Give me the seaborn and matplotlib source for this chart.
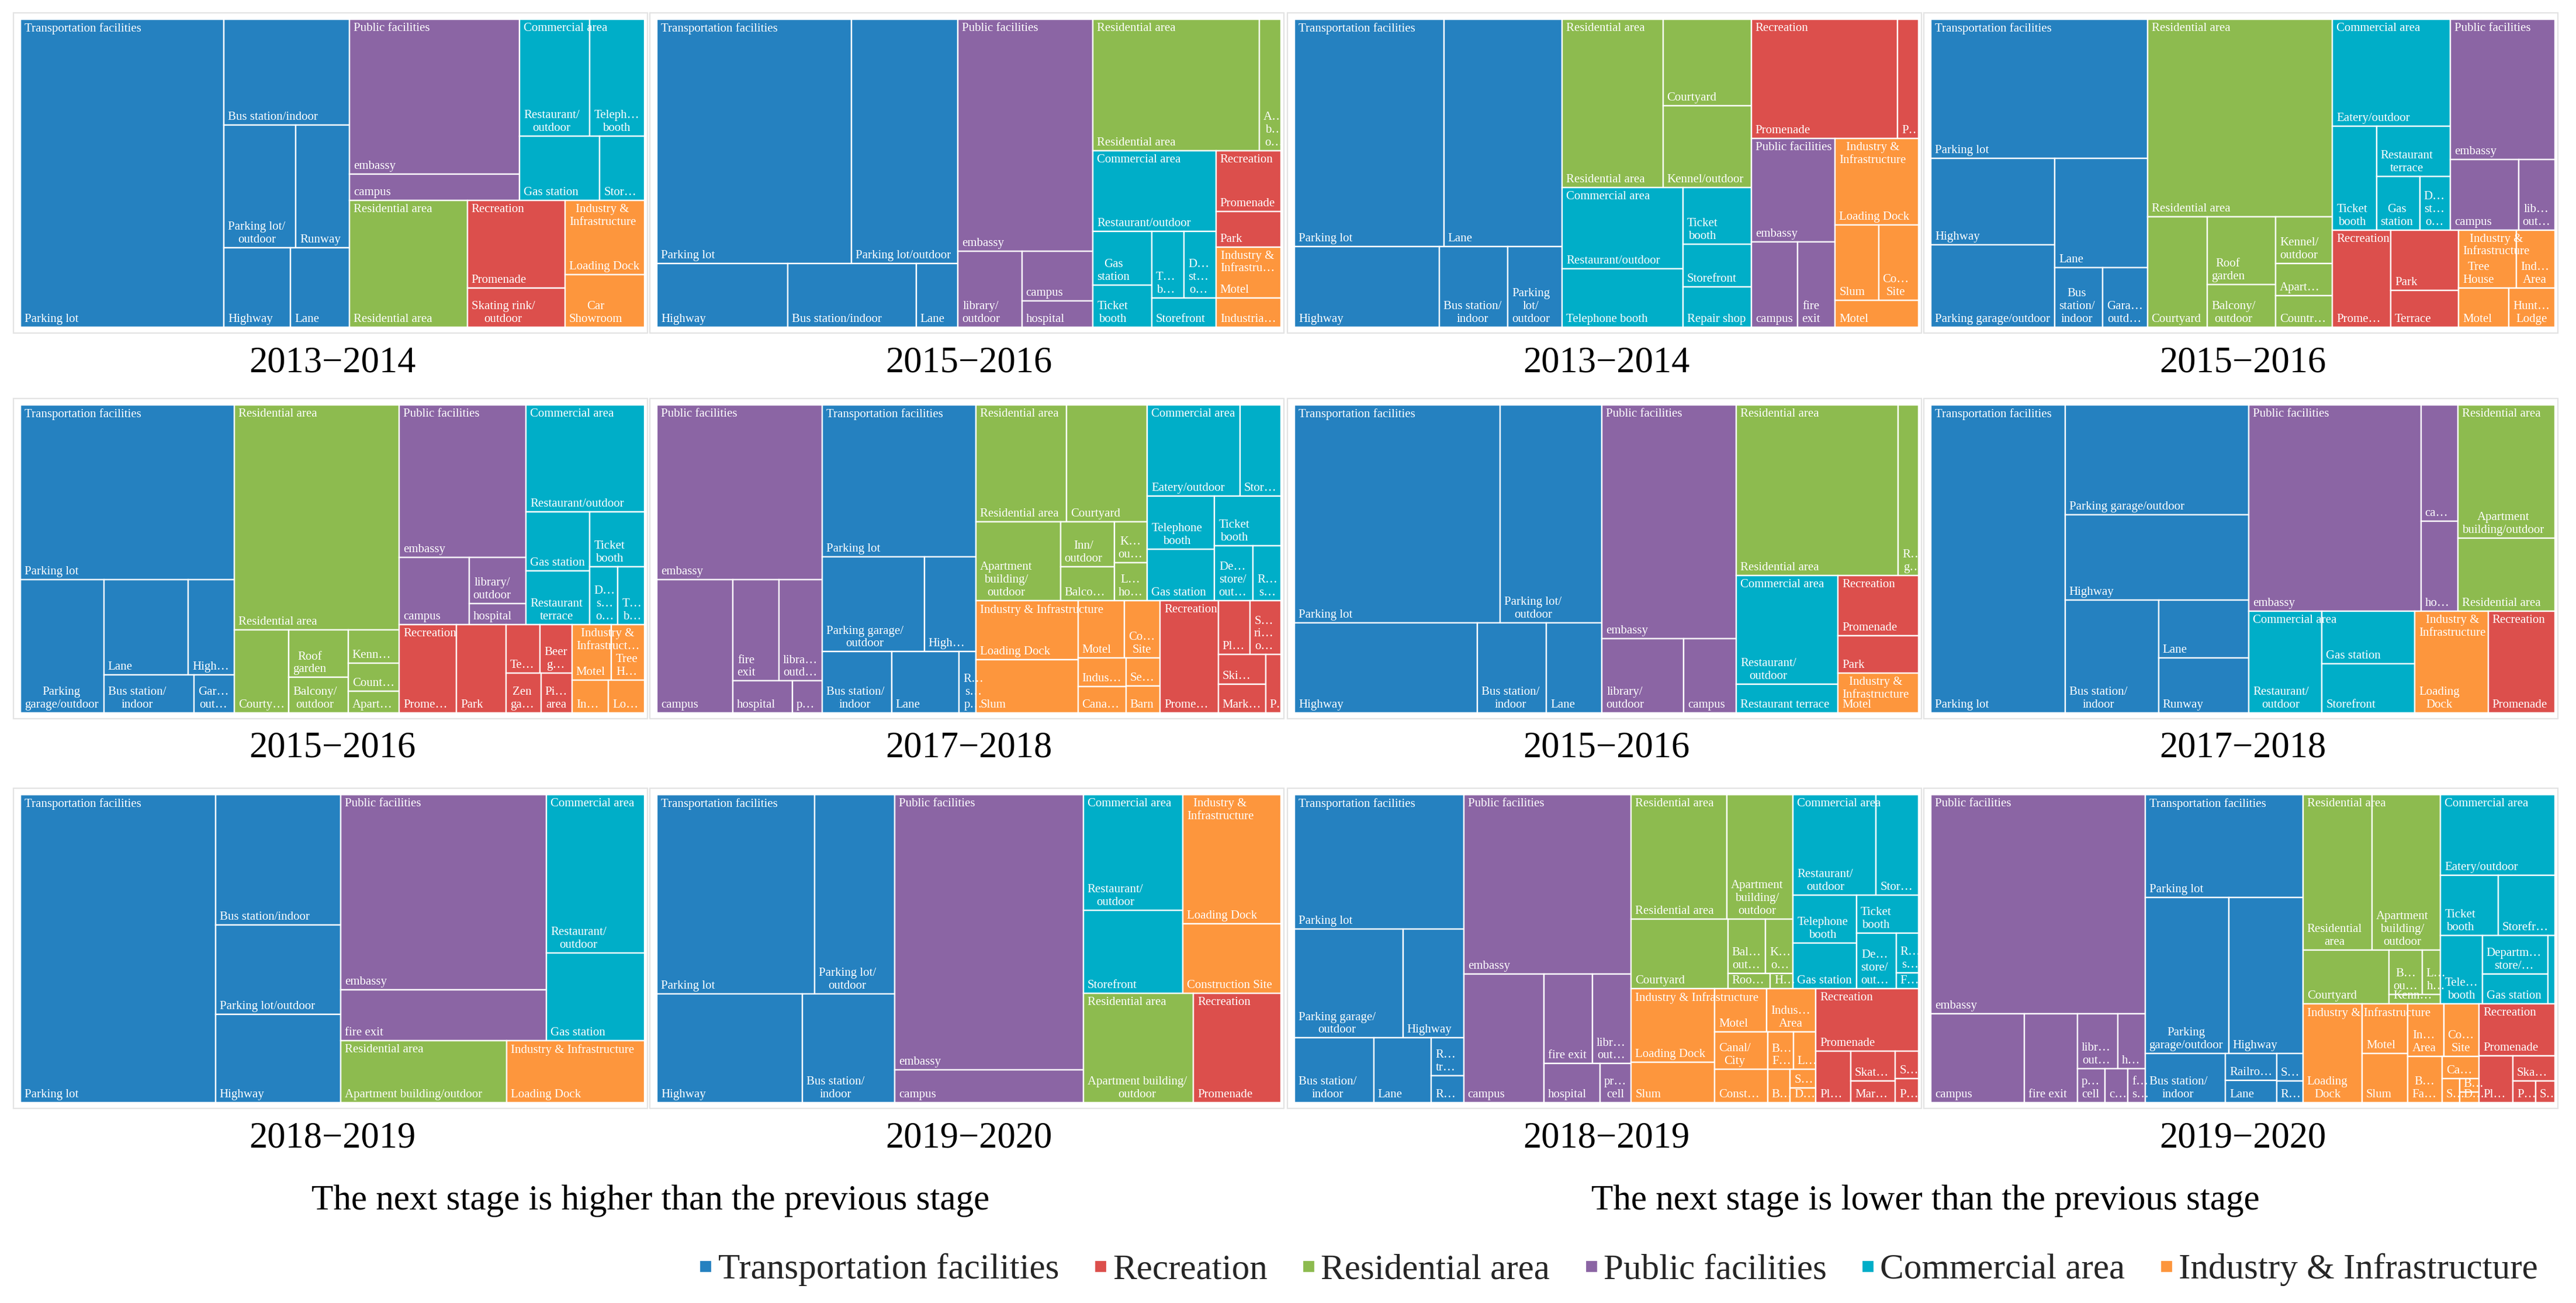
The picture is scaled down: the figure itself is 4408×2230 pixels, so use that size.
import re
import matplotlib
matplotlib.use("Agg")
import matplotlib.pyplot as plt
from matplotlib.patches import Rectangle
from matplotlib.lines import Line2D
from matplotlib.font_manager import FontProperties
import seaborn as sns

# group codes: T transport, P public, C commercial, R residential, E recreation, I industry
CAT_CODES = ["T", "E", "R", "P", "C", "I"]
CAT_NAMES = ["Transportation facilities", "Recreation", "Residential area",
             "Public facilities", "Commercial area", "Industry & Infrastructure"]
CAT_HEX = ["#2581c0", "#dc4f4c", "#8dbb4f", "#8b65a4", "#00aec8", "#fd963d"]

TITLES = ["2013\u22122014", "2015\u22122016", "2013\u22122014", "2015\u22122016",
          "2015\u22122016", "2017\u22122018", "2015\u22122016", "2017\u22122018",
          "2018\u22122019", "2019\u22122020", "2018\u22122019", "2019\u22122020"]
CAPTIONS = ["The next stage is higher than the previous stage",
            "The next stage is lower than the previous stage"]

# ---- leaf areas ----
P1_GROUP = list("TTTTTTPPCCCCREEII")
P1_LEAF = ["Parking lot", "Bus station/indoor", "Parking lot/outdoor", "Runway", "Highway", "Lane",
           "embassy", "campus",
           "Restaurant/outdoor", "Telephone booth", "Gas station", "Storefront",
           "Residential area", "Promenade", "Skating rink/outdoor", "Loading Dock", "Car Showroom"]
P1_VALUE = [735, 156, 103, 77, 62, 55, 309, 53, 96, 75, 61, 34, 175, 100, 45, 69, 49]

P2_GROUP = list("TTTTTPPPPRRCCCCCCEEII")
P2_LEAF = ["Parking lot", "Parking lot/outdoor", "Highway", "Bus station/indoor", "Lane",
           "embassy", "library/outdoor", "campus", "hospital",
           "Residential area", "Apartment building/outdoor",
           "Restaurant/outdoor", "Gas station", "Ticket booth", "Telephone booth",
           "Department store/outdoor", "Storefront",
           "Promenade", "Park", "Motel", "Industrial Area"]
P2_VALUE = [555, 303, 98, 96, 31, 367, 57, 41, 22, 256, 33, 116, 37, 29, 25, 25, 22, 46, 27, 39, 22]

P3_GROUP = list("TTTTTRRRCCCCCEEPPPIIII")
P3_LEAF = ["Parking lot", "Lane", "Highway", "Bus station/indoor", "Parking lot/outdoor",
           "Residential area", "Courtyard", "Kennel/outdoor",
           "Restaurant/outdoor", "Telephone booth", "Ticket booth", "Storefront", "Repair shop",
           "Promenade", "Park", "embassy", "campus", "fire exit",
           "Loading Dock", "Slum", "Construction Site", "Motel"]
P3_VALUE = [395, 313, 136, 64, 51, 197, 89, 84, 114, 82, 45, 34, 32, 203, 29, 101, 46, 37, 84, 38, 35, 26]

P4_GROUP = list("TTTTTTRRRRRRRCCCCCPPPEEEIIII")
P4_LEAF = ["Parking lot", "Highway", "Parking garage/outdoor", "Lane", "Bus station/indoor", "Garage/outdoor",
           "Residential area", "Courtyard", "Roof garden", "Balcony/outdoor", "Kennel/outdoor",
           "Apartment building/outdoor", "Country house",
           "Eatery/outdoor", "Ticket booth", "Restaurant terrace", "Gas station", "Department store/outdoor",
           "embassy", "campus", "library/outdoor", "Promenade", "Park", "Terrace",
           "Tree House", "Industrial Area", "Motel", "Hunting Lodge"]
P4_VALUE = [351, 125, 119, 118, 33, 31, 426, 77, 54, 34, 31, 21.3, 21, 147, 53, 43, 27, 19,
            171, 56, 30, 66, 48, 29, 39, 26, 23, 21]

P5_GROUP = list("TTTTTTRRRRRRRPPPPCCCCCCEEEEEEIIII")
P5_LEAF = ["Parking lot", "Parking garage/outdoor", "Lane", "Highway", "Bus station/indoor", "Garage/outdoor",
           "Residential area", "Courtyard", "Roof garden", "Balcony/outdoor", "Kennel/outdoor",
           "Country house", "Apartment building/outdoor",
           "embassy", "campus", "library/outdoor", "hospital",
           "Restaurant/outdoor", "Gas station", "Restaurant terrace", "Ticket booth",
           "Department store/outdoor", "Telephone booth",
           "Promenade", "Park", "Terrace", "Beer garden", "Zen garden", "Picnic area",
           "Motel", "Tree House", "Industrial Area", "Loading Dock"]
P5_VALUE = [436, 130, 94, 51, 40, 18, 433, 53, 33, 24.5, 20, 16.7, 12.8, 226, 55, 31, 14,
            148, 44, 40, 35, 19, 18, 59, 51, 19.3, 18.1, 16.3, 14.4, 25.5, 21.4, 14, 13.9]

P6_GROUP = list("PPPPPPTTTTTTRRRRRRRCCCCCCCIIIIIIIIEEEEEE")
P6_LEAF = ["embassy", "campus", "fire exit", "library/outdoor", "hospital", "prison cell",
           "Parking lot", "Parking garage/outdoor", "Highway", "Bus station/indoor", "Lane",
           "Railroad station/platform",
           "Residential area", "Courtyard", "Apartment building/outdoor", "Inn/outdoor",
           "Balcony/outdoor", "Kennel/outdoor", "Luxury house",
           "Eatery/outdoor", "Storefront", "Telephone booth", "Gas station", "Ticket booth",
           "Department store/outdoor", "Repair shop",
           "Loading Dock", "Slum", "Motel", "Construction Site", "Industrial Area", "Canal/City",
           "Server room", "Barn",
           "Promenade", "Playground", "Skating rink/outdoor", "Ski resort", "Market/outdoor", "Park"]
P6_VALUE = [335, 118, 54, 51, 22, 11, 272, 113, 57, 49.5, 48, 12,
            123, 110, 77, 28, 21, 15.6, 14.6, 98, 43.5, 41.5, 40.3, 38.5, 24.4, 17.8,
            70, 63, 31, 24, 15.8, 14.7, 11, 10.8, 76, 19.8, 19.5, 16.2, 15.8, 10.5]

P7_GROUP = list("TTTTTPPPRRCCEEI")
P7_LEAF = ["Parking lot", "Parking lot/outdoor", "Highway", "Bus station/indoor", "Lane",
           "embassy", "library/outdoor", "campus", "Residential area", "Roof garden",
           "Restaurant/outdoor", "Restaurant terrace", "Promenade", "Park", "Motel"]
P7_VALUE = [518, 256, 191, 72, 58, 363, 70, 45, 319, 40, 128, 34, 56, 35, 37]

P8_GROUP = list("TTTTTTPPPRRCCCIE")
P8_LEAF = ["Parking lot", "Parking garage/outdoor", "Highway", "Bus station/indoor", "Lane", "Runway",
           "embassy", "campus", "hospital", "Apartment building/outdoor", "Residential area",
           "Restaurant/outdoor", "Gas station", "Storefront", "Loading Dock", "Promenade"]
P8_VALUE = [490, 240, 185, 125, 62, 59, 420, 51, 39.5, 153, 84, 88, 58, 54, 88.5, 80.5]

P9_GROUP = list("TTTTPPCCRI")
P9_LEAF = ["Parking lot", "Bus station/indoor", "Parking lot/outdoor", "Highway", "embassy", "fire exit",
           "Restaurant/outdoor", "Gas station", "Apartment building/outdoor", "Loading Dock"]
P9_VALUE = [706, 192, 131.5, 130.5, 472, 123, 183, 101, 121, 100.5]

P10_GROUP = list("TTTTPPCCIIRE")
P10_LEAF = ["Parking lot", "Parking lot/outdoor", "Highway", "Bus station/indoor", "embassy", "campus",
            "Restaurant/outdoor", "Storefront", "Loading Dock", "Construction Site",
            "Apartment building/outdoor", "Promenade"]
P10_VALUE = [368, 188, 186, 118, 609, 72, 135, 97, 149, 80, 141, 112]

P11_GROUP = list("TTTTTTTPPPPPPRRRRRRRCCCCCCCCIIIIIIIIIIIEEEEEE")
P11_LEAF = ["Parking lot", "Parking garage/outdoor", "Highway", "Bus station/indoor", "Lane",
            "Race track", "Runway",
            "embassy", "campus", "fire exit", "library/outdoor", "hospital", "prison cell",
            "Residential area", "Apartment building/outdoor", "Courtyard", "Balcony/outdoor",
            "Kennel/outdoor", "Roof garden", "House",
            "Restaurant/outdoor", "Storefront", "Telephone booth", "Gas station", "Ticket booth",
            "Department store/outdoor", "Repair shop", "Fast food",
            "Loading Dock", "Slum", "Motel", "Industrial Area", "Canal/City", "Construction Site",
            "Building Facade", "Landfill", "Boathouse", "Shed", "Dam",
            "Promenade", "Playground", "Skating rink/outdoor", "Market/outdoor", "Ski resort", "Park"]
P11_VALUE = [262, 136, 76, 59, 43, 14, 10, 346, 119, 50, 40, 25, 14,
             137, 95, 77, 23.5, 17.3, 7.4, 4, 96, 49, 35, 33, 27, 25.4, 10.3, 4,
             71, 38.6, 26, 24.5, 22.8, 20.3, 11.2, 9.8, 8.6, 5.4, 4.4,
             74, 20.7, 15.3, 11.2, 7.3, 6.4]

P12_GROUP = list("PPPPPPPPTTTTTTTTRRRRRRCCCCCCCIIIIIIIIIIEEEEE")
P12_LEAF = ["embassy", "campus", "fire exit", "library/outdoor", "hospital", "prison cell",
            "courthouse", "fire station",
            "Parking lot", "Parking garage/outdoor", "Highway", "Bus station/indoor",
            "Railroad station/platform", "Lane", "Subway station", "Race track",
            "Residential area", "Apartment building/outdoor", "Courtyard", "Balcony/outdoor",
            "Luxury house", "Kennel/outdoor",
            "Eatery/outdoor", "Ticket booth", "Storefront", "Telephone booth",
            "Department store/outdoor", "Gas station", "Repair shop",
            "Loading Dock", "Motel", "Slum", "Industrial Area", "Construction Site",
            "Building Facade", "Canal/City", "Stable", "Barn", "Dam",
            "Promenade", "Playground", "Skating rink/outdoor", "Pond", "Ski resort"]
P12_VALUE = [546, 97, 55, 26, 17.4, 10.9, 8.9, 6.8, 189, 152, 135, 46, 16, 13.3, 8.4, 6.7,
             125, 124, 54, 17, 9.5, 5.7, 107, 40.2, 39.9, 33.3, 29.6, 22.6, 5.8,
             68, 26.6, 26.1, 21.9, 21.7, 18.4, 9.7, 4.8, 3.0, 2.4, 46, 18.4, 12.3, 5.7, 4.9]

PANELS = [(P1_GROUP, P1_LEAF, P1_VALUE), (P2_GROUP, P2_LEAF, P2_VALUE),
          (P3_GROUP, P3_LEAF, P3_VALUE), (P4_GROUP, P4_LEAF, P4_VALUE),
          (P5_GROUP, P5_LEAF, P5_VALUE), (P6_GROUP, P6_LEAF, P6_VALUE),
          (P7_GROUP, P7_LEAF, P7_VALUE), (P8_GROUP, P8_LEAF, P8_VALUE),
          (P9_GROUP, P9_LEAF, P9_VALUE), (P10_GROUP, P10_LEAF, P10_VALUE),
          (P11_GROUP, P11_LEAF, P11_VALUE), (P12_GROUP, P12_LEAF, P12_VALUE)]
for g, l, v in PANELS:
    assert len(g) == len(l) == len(v)

# tiling aspect targets (squarify ratio) per panel: top level and inside each group
TOP_RATIO = [1.0, 0.85, 1.3, 1.15, 1.0, 0.95, 0.8, 1.2, 1.3, 1.3, 1.0, 1.0]
LEAF_RATIO = [1.2, 1.2, 1.2, 0.8, 1.2, 1.2, 1.2, 0.8, 1.2, 1.2, 1.2, 1.2]

# ---- style / geometry ----
sns.set_theme(style="white")
FONT = ["Liberation Serif", "DejaVu Serif"]
plt.rcParams["font.family"] = FONT
palette = dict(zip(CAT_CODES, sns.color_palette(CAT_HEX)))

FW, FH, DPI = 4408, 2230, 200
LEFTS = [35, 1124, 2215, 3304]
TOPS = [33, 693, 1360]
PW, PH = 1068, 527
LABEL_SIZE = 7.5
EM = LABEL_SIZE / 72 * DPI
LINE_H = 1.2 * EM
PADX, PADB, PADT = 7, 4, 6

fig = plt.figure(figsize=(FW / DPI, FH / DPI), dpi=DPI)
renderer = fig.canvas.get_renderer()
label_prop = FontProperties(family=FONT, size=LABEL_SIZE)


def text_w(s):
    return renderer.get_text_width_height_descent(s, label_prop, ismath=False)[0]


def squarify(values, x0, y0, x1, y1, ratio):
    rects = []
    remaining = float(sum(values))
    i0, n = 0, len(values)
    while i0 < n:
        dx, dy = x1 - x0, y1 - y0
        s = values[i0]
        i1 = i0 + 1
        vmin = vmax = s
        alpha = max(dy / dx, dx / dy) / (remaining * ratio)
        beta = s * s * alpha
        best = max(vmax / beta, beta / vmin)
        while i1 < n:
            v = values[i1]
            s2 = s + v
            lo, hi = min(vmin, v), max(vmax, v)
            beta = s2 * s2 * alpha
            score = max(hi / beta, beta / lo)
            if score > best:
                break
            s, vmin, vmax, best = s2, lo, hi, score
            i1 += 1
        last = i1 >= n
        if dx < dy:
            yk = y1 if last else y0 + dy * s / remaining
            xx = x0
            for v in values[i0:i1]:
                w = dx * v / s
                rects.append((xx, y0, w, yk - y0))
                xx += w
            y0 = yk
        else:
            xk = x1 if last else x0 + dx * s / remaining
            yy = y0
            for v in values[i0:i1]:
                h = dy * v / s
                rects.append((x0, yy, xk - x0, h))
                yy += h
            x0 = xk
        remaining -= s
        i0 = i1
    return rects


def clip_word(word, maxw):
    if text_w(word) <= maxw:
        return word
    for k in range(len(word) - 1, 0, -1):
        cand = word[:k].rstrip(" /") + "\u2026"
        if text_w(cand) <= maxw:
            return cand
    return word[0] + "\u2026"


def fit_label(text, maxw, max_lines):
    if text_w(text) <= maxw:
        return text
    tokens = re.findall(r"[^ /]+/?", text)
    lines, cur = [], ""
    for tok in tokens:
        if not cur:
            cur = tok
            continue
        cand = cur + tok if cur.endswith("/") else cur + " " + tok
        if text_w(cand) <= maxw:
            cur = cand
        else:
            lines.append(cur)
            cur = tok
    lines.append(cur)
    if len(lines) > max_lines:
        lines = lines[:max_lines]
        lines[-1] = clip_word(lines[-1] + "\u2026", maxw)
    return "\n".join(clip_word(ln, maxw) for ln in lines)


def draw_panel(ax, groups, leaves, values, top_ratio, leaf_ratio):
    sums = {}
    for g, v in zip(groups, values):
        sums[g] = sums.get(g, 0) + v
    cats = sorted(sums, key=lambda g: -sums[g])
    crects = squarify([sums[g] for g in cats], 0, 0, PW, PH, top_ratio)
    for g, (gx, gy, gw, gh) in zip(cats, crects):
        color = palette[g]
        items = sorted([(v, name) for gg, name, v in zip(groups, leaves, values) if gg == g],
                       key=lambda t: -t[0])
        lrects = squarify([v for v, _ in items], gx, gy, gx + gw, gy + gh, leaf_ratio)
        for (v, name), (x, y, w, h) in zip(items, lrects):
            patch = Rectangle((x, y), w, h, facecolor=color, edgecolor="white", linewidth=0.85)
            ax.add_patch(patch)
            if w < 16 or h < 12:
                continue
            nmax = max(1, int((h - 12 - EM) // LINE_H) + 1)
            lab = fit_label(name, w - 2 * PADX, nmax)
            t = ax.text(x + PADX, y + h - PADB, lab, ha="left", va="bottom",
                        multialignment="center", color="white", fontsize=LABEL_SIZE)
            t.set_clip_path(patch)
        gpatch = Rectangle((gx, gy), gw, gh, fill=False, linewidth=0)
        ax.add_patch(gpatch)
        glab = fit_label(CAT_NAMES[CAT_CODES.index(g)], gw - PADX - 3, 3)
        t = ax.text(gx + PADX, gy + PADT, glab, ha="left", va="top",
                    multialignment="center", color="white", fontsize=LABEL_SIZE)
        t.set_clip_path(gpatch)


for i, (groups, leaves, values) in enumerate(PANELS):
    r, c = divmod(i, 4)
    L, T = LEFTS[c], TOPS[r]
    fig.add_artist(Rectangle(((L - 12) / FW, 1 - (T + PH + 10) / FH), (PW + 17) / FW, (PH + 21) / FH,
                             transform=fig.transFigure, fill=False, edgecolor="#e3e3e3", linewidth=0.8))
    ax = fig.add_axes([L / FW, 1 - (T + PH) / FH, PW / FW, PH / FH])
    ax.set_xlim(0, PW)
    ax.set_ylim(PH, 0)
    ax.axis("off")
    draw_panel(ax, groups, leaves, values, TOP_RATIO[i], LEAF_RATIO[i])
    fig.text((L + PW / 2) / FW, 1 - (T + PH + 61) / FH, TITLES[i],
             ha="center", va="center", fontsize=22.5, color="black")

fig.text(1113 / FW, 1 - 2055 / FH, CAPTIONS[0], ha="center", va="center", fontsize=22, color="black")
fig.text(3295 / FW, 1 - 2055 / FH, CAPTIONS[1], ha="center", va="center", fontsize=22, color="black")

handles = [Line2D([0], [0], marker="s", linestyle="none", markersize=6,
                  markerfacecolor=palette[k], markeredgecolor=palette[k]) for k in CAT_CODES]
fig.legend(handles, CAT_NAMES, loc="center right", bbox_to_anchor=(4343 / FW, 1 - 2173 / FH),
           ncol=6, frameon=False, fontsize=22, handlelength=0.4, handletextpad=0.15,
           columnspacing=0.95, borderaxespad=0, borderpad=0)

fig.savefig("out.png", dpi=DPI)
